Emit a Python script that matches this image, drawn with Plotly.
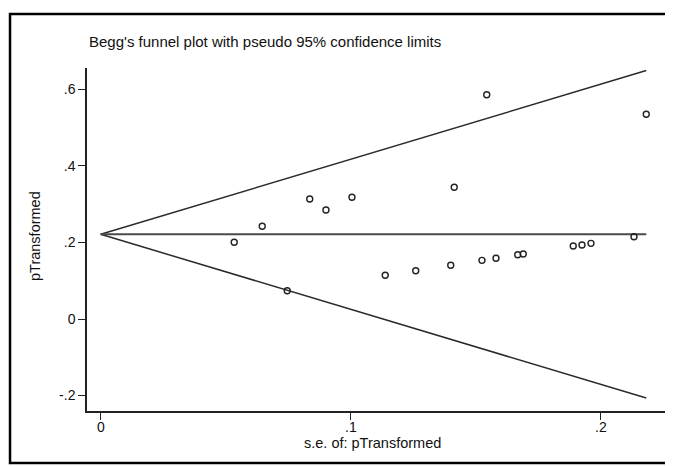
import plotly.graph_objects as go

# Data
se = [0.0534, 0.0646, 0.0836, 0.0901, 0.1005, 0.0746, 0.1138, 0.1260, 0.1400, 0.1414,
      0.1525, 0.1581, 0.1544, 0.1668, 0.1690, 0.1890, 0.1925, 0.1961, 0.2133, 0.2182]
effect = [0.2004, 0.2422, 0.3135, 0.2847, 0.3179, 0.0739, 0.1142, 0.1262, 0.1403, 0.3440,
          0.1533, 0.1586, 0.5859, 0.1680, 0.1698, 0.1907, 0.1933, 0.1977, 0.2150, 0.5348]
pooled = 0.2213
z = 1.96

x_tickvals = [0, 0.1, 0.2]
x_ticktext = ["0", ".1", ".2"]
y_tickvals = [-0.2, 0, 0.2, 0.4, 0.6]
y_ticktext = ["-.2", "0", ".2", ".4", ".6"]

title_text = "Begg's funnel plot with pseudo 95% confidence limits"
x_title = "s.e. of: pTransformed"
y_title = "pTransformed"

se_max = max(se)
line_x = [0, se_max]

FONT = "Liberation Sans, Arial, sans-serif"

fig = go.Figure()
fig.add_trace(go.Scatter(x=line_x, y=[pooled + z * v for v in line_x], mode="lines",
                         line=dict(color="#2a2a2a", width=1.5), showlegend=False))
fig.add_trace(go.Scatter(x=line_x, y=[pooled - z * v for v in line_x], mode="lines",
                         line=dict(color="#2a2a2a", width=1.5), showlegend=False))
fig.add_trace(go.Scatter(x=line_x, y=[pooled, pooled], mode="lines",
                         line=dict(color="#4a4a4a", width=2), showlegend=False))
fig.add_trace(go.Scatter(x=se, y=effect, mode="markers",
                         marker=dict(symbol="circle-open", size=6, color="#222222",
                                     line=dict(width=1.4, color="#222222")),
                         showlegend=False))

annotations = [
    dict(text=title_text, xref="paper", yref="paper", x=0, y=1.0787,
         xanchor="left", yanchor="middle", showarrow=False,
         font=dict(size=15, family=FONT, color="#111111")),
    dict(text=x_title, xref="paper", yref="paper", x=0.492, y=-0.0933,
         xanchor="center", yanchor="middle", showarrow=False,
         font=dict(size=14.5, family=FONT, color="#111111")),
    dict(text=y_title, xref="paper", yref="paper", x=-0.0895, y=0.5103,
         xanchor="center", yanchor="middle", showarrow=False, textangle=-90,
         font=dict(size=14.5, family=FONT, color="#111111")),
]
# x tick labels placed close under the ticks, as in the reference
for v, t in zip(x_tickvals, x_ticktext):
    annotations.append(dict(text=t, xref="x", yref="paper", x=v, y=-0.047,
                            xanchor="center", yanchor="middle", showarrow=False,
                            font=dict(size=14, family=FONT, color="#111111")))

# The page body adds an 8px margin, so the figure is 8px smaller on each side
fig.update_layout(
    width=665, height=458,
    margin=dict(l=79, r=5, t=60, b=55),
    paper_bgcolor="white", plot_bgcolor="white",
    font=dict(family=FONT, size=14, color="#111111"),
    showlegend=False,
    xaxis=dict(range=[-0.00548, 0.2269], tickvals=x_tickvals, showticklabels=False,
               showgrid=False, zeroline=False, showline=True, linecolor="#222222",
               linewidth=1.5, ticks="outside", ticklen=7, tickwidth=1.3,
               tickcolor="#222222"),
    yaxis=dict(range=[-0.2403, 0.6557], tickvals=y_tickvals, ticktext=y_ticktext,
               showgrid=False, zeroline=False, showline=True, linecolor="#222222",
               linewidth=1.5, ticks="outside", ticklen=7, tickwidth=1.3,
               tickcolor="#222222", tickfont=dict(size=14, family=FONT)),
    annotations=annotations,
    shapes=[
        dict(type="rect", xref="paper", yref="paper",
             x0=-0.1325, x1=1.0034, y0=-0.1516, y1=1.1574,
             line=dict(color="black", width=2.5), fillcolor="rgba(0,0,0,0)"),
    ],
)

fig.write_html("out.html")
